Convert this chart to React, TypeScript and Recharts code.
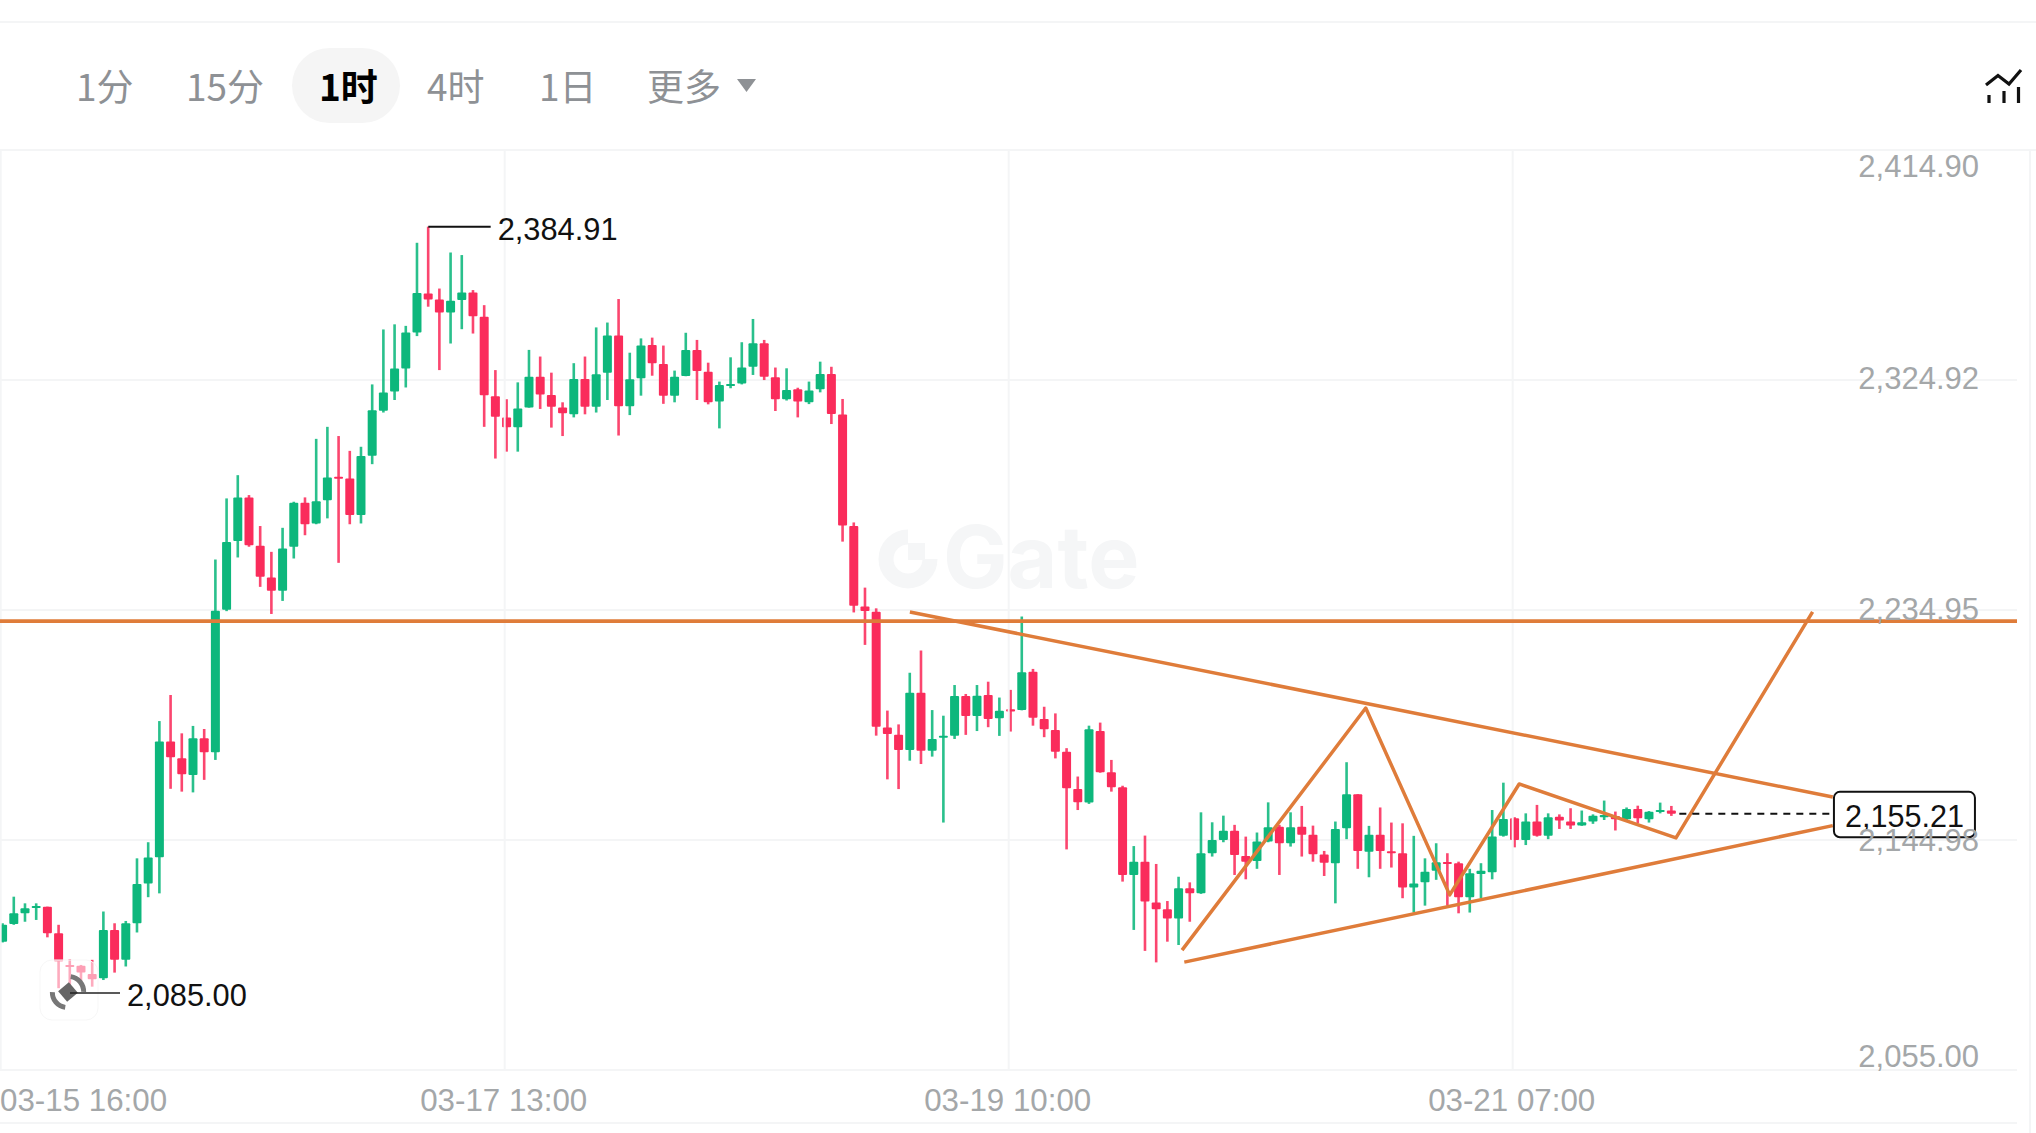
import React from 'react';
import { Bar, CartesianGrid, ComposedChart, Line, ReferenceDot, ReferenceLine, XAxis, YAxis } from 'recharts';

// hourly candles, 03-15 16:00 onwards
const opens = [
  2105.2, 2112.1, 2116.3, 2118.4, 2118.9, 2108.5, 2096.1, 2095.8, 2092.6, 2090.9,
  2109.8, 2098.1, 2112.4, 2128.0, 2138.2, 2183.5, 2177.0, 2170.4, 2184.8, 2179.3,
  2235.0, 2261.9, 2279.0, 2260.1, 2247.7, 2242.5, 2259.7, 2276.9, 2268.8, 2277.9,
  2287.1, 2286.4, 2272.1, 2295.3, 2312.9, 2320.4, 2329.4, 2343.5, 2358.8, 2356.4,
  2351.3, 2356.2, 2359.2, 2349.7, 2318.6, 2310.3, 2306.4, 2314.2, 2326.2, 2319.1,
  2314.2, 2311.5, 2325.3, 2314.5, 2327.8, 2342.3, 2314.7, 2325.6, 2338.6, 2331.2,
  2318.8, 2326.5, 2336.7, 2328.2, 2316.5, 2323.0, 2323.6, 2330.1, 2339.3, 2326.0,
  2317.4, 2321.3, 2316.2, 2321.3, 2327.3, 2311.4, 2267.8, 2236.3, 2234.3, 2189.0,
  2186.1, 2180.2, 2202.6, 2179.9, 2185.3, 2185.8, 2201.3, 2193.5, 2201.7, 2192.6,
  2196.1, 2195.8, 2210.8, 2192.3, 2188.0, 2179.5, 2164.9, 2159.6, 2187.6, 2171.5,
  2165.6, 2131.3, 2136.5, 2120.5, 2117.9, 2114.3, 2126.1, 2124.1, 2139.8, 2145.0,
  2148.6, 2138.7, 2136.8, 2144.4, 2150.2, 2143.7, 2150.2, 2147.0, 2139.3, 2135.9,
  2149.6, 2162.9, 2140.4, 2147.0, 2140.6, 2139.8, 2126.4, 2128.4, 2132.9, 2136.4,
  2135.9, 2122.6, 2131.7, 2132.4, 2146.6, 2153.5, 2145.0, 2152.2, 2146.6, 2154.1,
  2152.2, 2150.6, 2152.2, 2153.9, 2154.4, 2153.1, 2157.1, 2153.1, 2156.1, 2156.5,
];
const closes = [
  2111.8, 2116.3, 2118.3, 2119.2, 2108.5, 2097.4, 2095.4, 2093.1, 2090.5, 2109.8,
  2098.1, 2112.4, 2127.8, 2138.1, 2183.5, 2177.3, 2170.7, 2184.8, 2179.3, 2234.7,
  2261.6, 2279.0, 2260.3, 2248.0, 2242.5, 2259.0, 2276.9, 2268.5, 2277.5, 2286.8,
  2286.7, 2272.1, 2295.2, 2313.1, 2320.0, 2329.4, 2343.5, 2359.0, 2356.4, 2351.3,
  2355.9, 2359.2, 2349.9, 2319.0, 2310.5, 2306.4, 2313.8, 2326.2, 2319.3, 2314.5,
  2311.9, 2325.3, 2314.5, 2327.2, 2342.3, 2314.7, 2325.2, 2338.4, 2331.5, 2318.8,
  2326.2, 2336.7, 2328.4, 2316.2, 2323.0, 2323.4, 2329.8, 2339.3, 2326.2, 2317.4,
  2321.0, 2316.5, 2320.8, 2327.3, 2311.6, 2268.0, 2236.6, 2234.6, 2189.3, 2186.4,
  2180.2, 2202.6, 2179.9, 2184.5, 2185.8, 2201.3, 2193.5, 2201.4, 2192.3, 2195.5,
  2195.2, 2210.6, 2192.8, 2188.3, 2179.5, 2165.2, 2159.7, 2188.3, 2171.5, 2165.6,
  2131.3, 2136.5, 2120.9, 2117.9, 2114.3, 2126.1, 2124.1, 2139.8, 2145.0, 2148.6,
  2139.1, 2136.5, 2144.4, 2150.0, 2143.7, 2150.0, 2147.0, 2139.4, 2136.1, 2149.3,
  2162.9, 2140.7, 2147.0, 2140.7, 2140.2, 2126.4, 2128.0, 2132.6, 2136.3, 2136.0,
  2122.6, 2132.0, 2132.9, 2146.3, 2153.2, 2145.0, 2152.2, 2146.6, 2153.9, 2152.6,
  2150.6, 2151.9, 2154.5, 2154.8, 2153.1, 2157.1, 2153.5, 2156.0, 2156.7, 2155.21,
];
const highs = [
  2112.4, 2122.8, 2120.2, 2120.2, 2118.9, 2111.8, 2098.3, 2096.1, 2098.1, 2117.0,
  2112.4, 2113.3, 2137.8, 2144.1, 2191.5, 2201.7, 2186.7, 2189.6, 2188.4, 2254.7,
  2278.6, 2287.7, 2279.9, 2267.8, 2257.7, 2267.1, 2277.3, 2279.0, 2301.9, 2306.6,
  2303.0, 2297.2, 2298.8, 2323.2, 2344.7, 2346.7, 2346.1, 2378.6, 2384.91, 2360.7,
  2374.8, 2373.8, 2360.1, 2354.2, 2328.8, 2317.4, 2324.0, 2336.7, 2334.1, 2327.8,
  2316.2, 2331.5, 2334.1, 2345.5, 2347.4, 2356.6, 2335.6, 2341.2, 2341.5, 2338.4,
  2328.6, 2343.4, 2340.6, 2331.7, 2324.3, 2333.8, 2339.7, 2348.8, 2340.6, 2329.8,
  2329.5, 2321.9, 2324.3, 2332.1, 2330.1, 2317.5, 2269.2, 2243.7, 2235.6, 2195.6,
  2190.2, 2210.4, 2219.1, 2195.8, 2193.6, 2205.6, 2202.1, 2205.6, 2206.9, 2200.7,
  2203.7, 2232.4, 2211.9, 2197.1, 2194.5, 2180.9, 2169.8, 2189.7, 2190.9, 2176.3,
  2166.2, 2142.6, 2146.7, 2135.6, 2121.1, 2130.6, 2128.4, 2155.8, 2151.9, 2154.5,
  2150.9, 2146.3, 2147.9, 2159.7, 2150.9, 2155.8, 2158.3, 2150.6, 2140.7, 2152.2,
  2175.4, 2162.9, 2150.5, 2157.7, 2151.8, 2151.5, 2146.6, 2137.8, 2143.7, 2139.8,
  2136.5, 2133.7, 2135.9, 2156.7, 2167.4, 2153.9, 2155.4, 2158.7, 2155.4, 2155.0,
  2157.4, 2156.5, 2155.0, 2160.4, 2156.1, 2157.7, 2158.4, 2156.3, 2159.6, 2158.3,
];
const lows = [
  2104.9, 2111.8, 2113.0, 2113.7, 2106.9, 2087.0, 2085.0, 2089.6, 2087.6, 2090.2,
  2093.1, 2095.5, 2108.8, 2122.6, 2124.1, 2165.0, 2163.9, 2163.6, 2168.5, 2176.3,
  2234.5, 2255.5, 2259.7, 2244.0, 2233.4, 2238.5, 2255.1, 2264.2, 2268.5, 2270.8,
  2253.4, 2268.5, 2268.8, 2292.0, 2312.2, 2317.1, 2322.0, 2342.1, 2353.6, 2328.8,
  2339.2, 2344.8, 2343.1, 2306.6, 2294.2, 2296.9, 2296.9, 2314.1, 2313.6, 2306.3,
  2303.0, 2310.3, 2311.5, 2312.2, 2317.1, 2303.2, 2311.2, 2318.8, 2326.6, 2315.6,
  2316.2, 2326.4, 2317.1, 2315.4, 2306.0, 2321.7, 2323.2, 2326.9, 2324.9, 2312.8,
  2316.9, 2310.3, 2315.5, 2320.1, 2307.7, 2261.7, 2234.0, 2221.3, 2185.8, 2168.7,
  2164.9, 2176.0, 2174.7, 2177.6, 2151.8, 2184.5, 2186.1, 2187.6, 2189.1, 2185.7,
  2187.4, 2195.7, 2189.7, 2185.2, 2176.9, 2141.3, 2156.7, 2159.1, 2171.3, 2163.9,
  2128.7, 2109.8, 2101.6, 2097.1, 2105.2, 2103.9, 2113.0, 2123.9, 2138.5, 2144.1,
  2131.3, 2129.6, 2133.7, 2144.1, 2131.3, 2142.4, 2138.5, 2136.5, 2130.9, 2120.2,
  2145.3, 2133.7, 2130.4, 2133.7, 2134.2, 2122.2, 2116.6, 2119.3, 2129.4, 2119.3,
  2116.3, 2116.6, 2122.2, 2129.6, 2146.3, 2142.1, 2143.0, 2146.3, 2145.3, 2149.3,
  2149.3, 2150.5, 2151.3, 2152.8, 2148.7, 2152.8, 2151.5, 2151.8, 2155.4, 2154.4,
];

const priceTicks = [2055.0, 2144.98, 2234.95, 2324.92, 2414.9];
const priceTickLabels = ['2,055.00', '2,144.98', '2,234.95', '2,324.92', '2,414.90'];
const dateTicks = [0, 45, 90, 135];
const dateTickLabels = ['03-15 16:00', '03-17 13:00', '03-19 10:00', '03-21 07:00'];
const periods = ['1分', '15分', '1时', '4时', '1日', '更多'];
const periodLefts = [76, 186, 319, 427, 539, 647];

const resistance = 2230.6;
const lastPrice = 2155.21;
const highPrice = 2384.91;
const lowPrice = 2085.0;

// hand drawn lines, x is the candle index
const upperX = [81.0, 163.4];
const upperY = [2234.2, 2161.8];
const lowerX = [105.5, 163.4];
const lowerY = [2097.2, 2150.6];
const zigX = [105.3, 121.7, 129.2, 135.4, 149.4, 161.6];
const zigY = [2101.9, 2196.6, 2123.5, 2166.9, 2145.8, 2234.2];

const rows = opens.map((open, i) => ({
  i,
  open,
  close: closes[i],
  high: highs[i],
  low: lows[i],
  range: [lows[i], highs[i]],
}));
const toLine = (xs: number[], ys: number[]) => xs.map((x, n) => ({ i: x, price: ys[n] }));

const GREEN = '#0DB77C';
const RED = '#FA2C5B';
const ORANGE = '#DF7C3A';
const GRID = '#F4F5F6';
const MUTED = '#A4A7A9';
const FONT = '"Liberation Sans", Arial, sans-serif';
const CJK = '"Noto Sans CJK SC", sans-serif';
const GRID_SHIFT = 0.18;

const Candle = (props: any) => {
  const { x, y, width, height, payload } = props;
  const perUnit = height / (payload.high - payload.low);
  const top = y + (payload.high - Math.max(payload.open, payload.close)) * perUnit;
  const bodyH = Math.max(Math.abs(payload.open - payload.close) * perUnit, 2);
  const color = payload.close >= payload.open ? GREEN : RED;
  const cx = x + width / 2;
  return (
    <g>
      <rect x={cx - 1.3} y={y} width={2.6} height={height} fill={color} opacity={0.88} />
      <rect x={cx - 4.5} y={top} width={9} height={bodyH} rx={1} fill={color} />
    </g>
  );
};

const PriceTick = (props: any) => {
  const { x, y, index } = props;
  const shifts = [-14, 1, -1, -2, 16];
  return (
    <text x={x - 46} y={y + shifts[index]} textAnchor="end" dominantBaseline="central" fontSize={31} fontFamily={FONT} fill={MUTED}>
      {priceTickLabels[index]}
    </text>
  );
};

const DateTick = (props: any) => {
  const { x, y, index } = props;
  return (
    <text
      x={index === 0 ? 0 : x - 3}
      y={y + 22}
      textAnchor={index === 0 ? 'start' : 'middle'}
      dominantBaseline="central"
      fontSize={31.3}
      fontFamily={FONT}
      fill={MUTED}
    >
      {dateTickLabels[index]}
    </text>
  );
};

const PriceTag = (props: any) => {
  const { cx, cy } = props;
  return (
    <g>
      <rect x={cx - 70.5} y={cy - 22} width={141} height={45.5} rx={6} fill="#fff" stroke="#111" strokeWidth={2} />
      <text x={cx} y={cy + 2} textAnchor="middle" dominantBaseline="central" fontSize={30.6} fontFamily={FONT} fill="#111">
        2,155.21
      </text>
    </g>
  );
};

const extremeLabel = (value: string) => ({
  value,
  position: 'right' as const,
  offset: 7,
  dy: 2,
  fontSize: 30.8,
  fontFamily: FONT,
  fill: '#111',
});

const Watermark = () => (
  <svg width={2036} height={1133} style={{ position: 'absolute', left: 0, top: 0 }}>
    <path d="M 908 537 A 22 22 0 1 0 930 559" fill="none" stroke="#F5F6F7" strokeWidth={15} />
    <rect x={908} y={543} width={17} height={17} fill="#F5F6F7" />
    <text x={943} y={588} fontSize={86} fontWeight={700} fontFamily="Inter, sans-serif" fill="#F5F6F7">
      Gate
    </text>
  </svg>
);

const Chrome = () => (
  <svg width={2036} height={1133} style={{ position: 'absolute', left: 0, top: 0, pointerEvents: 'none' }}>
    <rect x={0} y={21} width={2036} height={2} fill={GRID} />
    <rect x={0} y={149} width={2036} height={2} fill={GRID} />
    <rect x={0} y={1122} width={2017} height={2} fill={GRID} />
    <rect x={2029} y={150} width={2} height={983} fill={GRID} />
    <path d="M 737 79 L 756 79 L 746.5 92 Z" fill="#8E9195" />
    <path d="M 1986 85 L 1998 75.5 L 2009 84 L 2021 70" fill="none" stroke="#111" strokeWidth={3.2} />
    <path d="M 1989 95 V 103 M 2004 91 V 103 M 2018.5 87 V 103" fill="none" stroke="#111" strokeWidth={3.2} />
    {/* faded logo badge over the low candles */}
    <rect x={40} y={960} width={58} height={60} rx={12} fill="#fff" fillOpacity={0.55} stroke="#F7F7F7" />
    <g transform="rotate(-40 68 992)">
      <rect x={61} y={985} width={14} height={14} fill="#666" />
      <path d="M 56 982 A 15 15 0 0 0 56 1002 M 80 982 A 15 15 0 0 1 80 1002" fill="none" stroke="#777" strokeWidth={5} />
    </g>
    <line x1={70} x2={120} y1={993} y2={993} stroke="#222" strokeWidth={1.5} />
  </svg>
);

export default function App() {
  return (
    <div style={{ position: 'absolute', left: 0, top: 0, width: 2036, height: 1133, background: '#fff', overflow: 'hidden' }}>
      <Watermark />
      <div style={{ position: 'absolute', left: 292, top: 48, width: 108, height: 75, borderRadius: 38, background: '#F5F5F5' }} />
      {periods.map((label, n) => (
        <span
          key={label}
          style={{
            position: 'absolute',
            left: periodLefts[n],
            top: 60,
            lineHeight: '50px',
            fontSize: 37,
            fontFamily: CJK,
            fontWeight: n === 2 ? 700 : 400,
            color: n === 2 ? '#000' : '#8E9195',
          }}
        >
          {label}
        </span>
      ))}
      <div style={{ position: 'absolute', left: 0, top: 0 }}>
        <ComposedChart width={2036} height={1133} data={rows} margin={{ top: 150, right: 18, bottom: 0, left: 0 }}>
          <CartesianGrid vertical={false} stroke={GRID} strokeWidth={2} />
          {dateTicks.map((t) => (
            <ReferenceLine key={t} x={t - GRID_SHIFT} stroke={GRID} strokeWidth={2} />
          ))}
          <XAxis
            dataKey="i"
            type="number"
            domain={[-0.241, 179.85]}
            allowDataOverflow
            ticks={dateTicks}
            interval={0}
            height={63}
            axisLine={false}
            tickLine={false}
            tick={<DateTick />}
          />
          <YAxis
            type="number"
            orientation="right"
            domain={[2055, 2414.9]}
            allowDataOverflow
            ticks={priceTicks}
            interval={0}
            width={1}
            axisLine={false}
            tickLine={false}
            tick={<PriceTick />}
          />
          <Bar dataKey="range" barSize={9} shape={<Candle />} isAnimationActive={false} />
          <ReferenceLine y={resistance} stroke={ORANGE} strokeWidth={3.6} />
          <Line data={toLine(upperX, upperY)} dataKey="price" stroke={ORANGE} strokeWidth={3.5} dot={false} activeDot={false} isAnimationActive={false} />
          <Line data={toLine(lowerX, lowerY)} dataKey="price" stroke={ORANGE} strokeWidth={3.5} dot={false} activeDot={false} isAnimationActive={false} />
          <Line data={toLine(zigX, zigY)} dataKey="price" stroke={ORANGE} strokeWidth={3.5} strokeLinejoin="round" dot={false} activeDot={false} isAnimationActive={false} />
          <ReferenceLine
            segment={[{ x: 38, y: highPrice }, { x: 43.57, y: highPrice }]}
            stroke="#111"
            strokeWidth={2}
          />
          <ReferenceDot x={43.57} y={highPrice} r={0} stroke="none" label={extremeLabel('2,384.91')} />
          <ReferenceDot x={10.47} y={lowPrice} r={0} stroke="none" label={extremeLabel('2,085.00')} />
          <ReferenceLine
            segment={[{ x: 149.7, y: lastPrice }, { x: 163.5, y: lastPrice }]}
            stroke="#111"
            strokeWidth={2}
            strokeDasharray="7 6"
          />
          <ReferenceDot x={169.8} y={lastPrice} r={0} stroke="none" shape={<PriceTag />} />
        </ComposedChart>
      </div>
      <Chrome />
    </div>
  );
}
